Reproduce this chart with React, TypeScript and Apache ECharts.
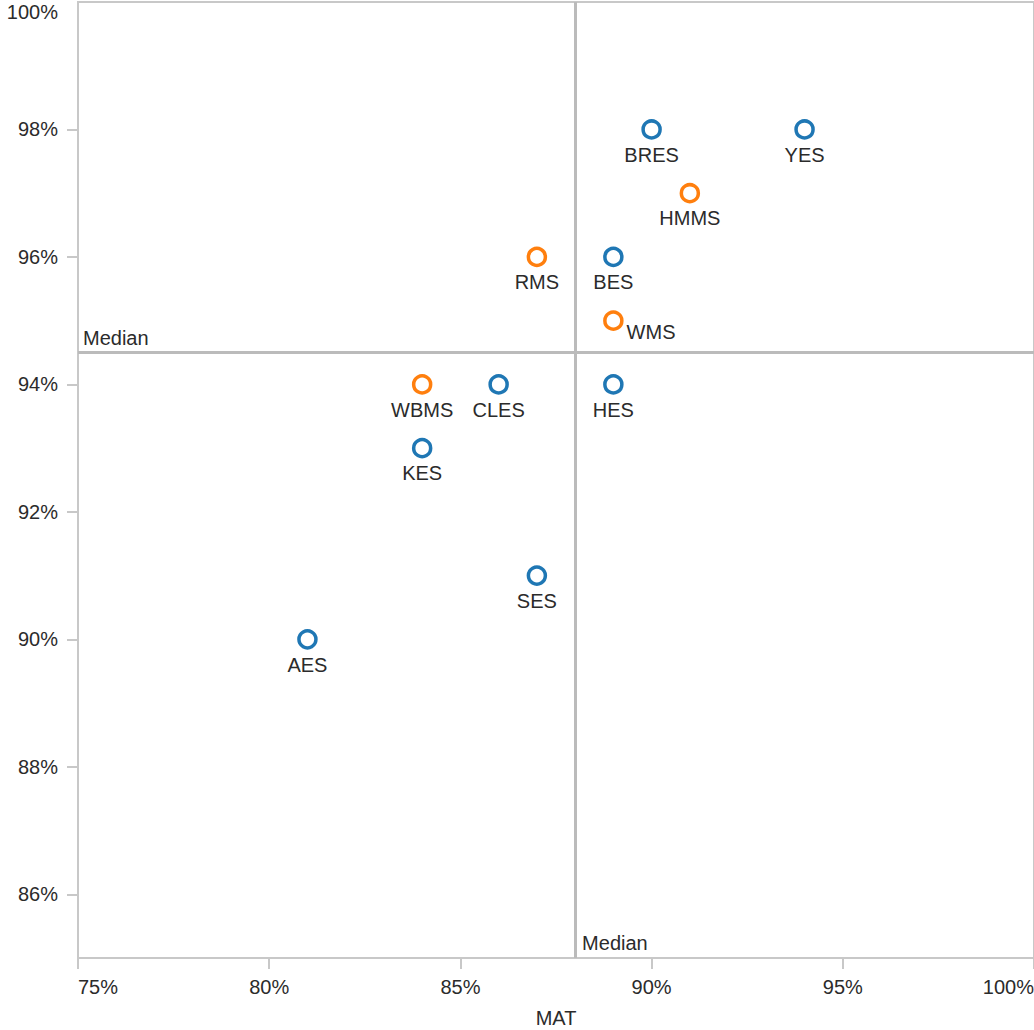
import React, { useEffect, useRef } from "react";
import * as echarts from "echarts";

const blueNames = ["BRES", "YES", "BES", "CLES", "HES", "KES", "SES", "AES"];
const blueMat = [90, 94, 89, 86, 89, 84, 87, 81];
const blueVal = [98, 98, 96, 94, 94, 93, 91, 90];

const orangeNames = ["HMMS", "RMS", "WMS", "WBMS"];
const orangeMat = [91, 87, 89, 84];
const orangeVal = [97, 96, 95, 94];

const xTicks = [75, 80, 85, 90, 95, 100];
const yTicks = [86, 88, 90, 92, 94, 96, 98, 100];
const medianX = 88;
const medianY = 94.5;

const FONT = "Liberation Sans, Arial, sans-serif";
const TXT = "#2b2b2b";
const AXIS = "#c8c8c8";
const FS = 20;

export default function App() {
  const ref = useRef<HTMLDivElement>(null);
  useEffect(() => {
    if (!ref.current) return;
    const chart = echarts.init(ref.current, undefined, { renderer: "svg" });
    const mk = (names: string[], xs: number[], ys: number[]) =>
      names.map((n, i) => {
        const d: any = { name: n, value: [xs[i], ys[i]] };
        if (n === "WMS") {
          d.label = { position: "right", distance: 3, offset: [0, 11] };
        }
        return d;
      });
    const pointLabel = {
      show: true,
      position: "bottom",
      distance: 5,
      formatter: "{b}",
      color: TXT,
      fontSize: FS,
      fontFamily: FONT,
    };
    chart.setOption({
      animation: false,
      textStyle: { fontFamily: FONT },
      grid: {
        left: 78,
        right: 0,
        top: 2,
        bottom: 72,
        outerBoundsMode: "none",
        containLabel: false,
        show: true,
        borderColor: AXIS,
        borderWidth: 2,
        backgroundColor: "transparent",
      },
      xAxis: {
        type: "value",
        min: 75,
        max: 100,
        interval: 5,
        name: "MAT",
        nameLocation: "middle",
        nameGap: 50,
        nameTextStyle: { color: TXT, fontSize: FS, fontFamily: FONT },
        axisLine: { show: true, lineStyle: { color: AXIS, width: 2 } },
        axisTick: { show: true, length: 11, lineStyle: { color: AXIS, width: 2 } },
        splitLine: { show: false },
        axisLabel: {
          color: TXT,
          fontSize: FS,
          fontFamily: FONT,
          margin: 19,
          alignMinLabel: "left",
          alignMaxLabel: "right",
          customValues: xTicks,
          formatter: (v: number) => v + "%",
        },
      },
      yAxis: {
        type: "value",
        min: 85,
        max: 100,
        axisLine: { show: true, lineStyle: { color: AXIS, width: 2 } },
        axisTick: {
          show: true,
          length: 11,
          lineStyle: { color: AXIS, width: 2 },
          customValues: yTicks.slice(0, -1),
        },
        splitLine: { show: false },
        axisLabel: {
          color: TXT,
          fontSize: FS,
          fontFamily: FONT,
          margin: 20,
          customValues: yTicks,
          verticalAlignMaxLabel: "top",
          formatter: (v: number) => v + "%",
        },
      },
      series: [
        {
          type: "scatter",
          name: "lines",
          data: [],
          silent: true,
          markLine: {
            silent: true,
            symbol: "none",
            label: { show: false },
            lineStyle: { color: "#bbbbbb", width: 3, type: "solid" },
            data: [{ xAxis: medianX }, { yAxis: medianY }],
          },
        },
        {
          type: "scatter",
          name: "medianLabels",
          symbolSize: 0,
          silent: true,
          itemStyle: { opacity: 1 },
          data: [
            {
              value: [75, medianY],
              label: { position: "right", distance: 5, offset: [0, -15] },
            },
            {
              value: [medianX, 85],
              label: { position: "right", distance: 7, offset: [0, -15] },
            },
          ],
          label: {
            show: true,
            formatter: "Median",
            color: TXT,
            opacity: 1,
            fontSize: FS,
            fontFamily: FONT,
          },
        },
        {
          type: "scatter",
          name: "blue",
          symbol: "circle",
          symbolSize: 17,
          itemStyle: { color: "#ffffff", borderColor: "#1f77b4", borderWidth: 3.5, opacity: 1 },
          label: pointLabel,
          data: mk(blueNames, blueMat, blueVal),
        },
        {
          type: "scatter",
          name: "orange",
          symbol: "circle",
          symbolSize: 17,
          itemStyle: { color: "#ffffff", borderColor: "#ff7f0e", borderWidth: 3.5, opacity: 1 },
          label: pointLabel,
          data: mk(orangeNames, orangeMat, orangeVal),
        },
      ],
    });
    return () => chart.dispose();
  }, []);
  return (
    <div
      ref={ref}
      style={{ position: "fixed", left: 0, top: 0, width: 1034, height: 1030, background: "#fff" }}
    />
  );
}
